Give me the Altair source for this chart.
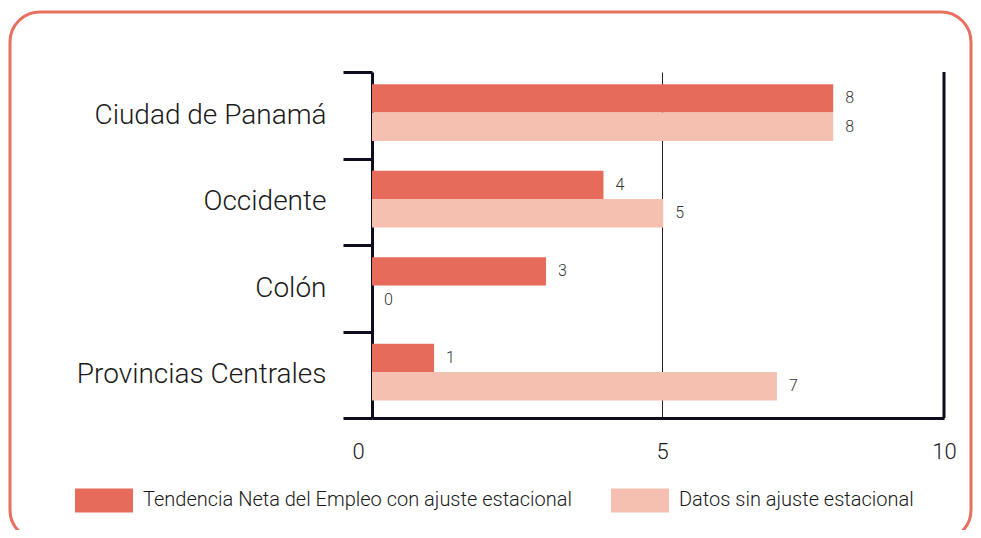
import altair as alt
import pandas as pd

categories = ["Ciudad de Panamá", "Occidente", "Colón", "Provincias Centrales"]
series = ["Tendencia Neta del Empleo con ajuste estacional", "Datos sin ajuste estacional"]
tendencia = [7.95, 3.99, 3.0, 1.07]
datos = [7.95, 5.02, 0.0, 6.98]
colors = ["#E76B5B", "#F6C0B1"]
x_max = 9.86          # right frame of the plot, labelled "10" in the source
x_ticks = [0, 5, x_max]

rows = []
for i, c in enumerate(categories):
    rows.append({"region": c, "serie": series[0], "valor": tendencia[i]})
    rows.append({"region": c, "serie": series[1], "valor": datos[i]})
df = pd.DataFrame(rows)

W, H = 572, 346
PAD = {"left": 364, "top": 64, "right": 29, "bottom": 112}
font = "Roboto"
dark = "#0d0d1f"
txt = "#1a1a1a"

y_enc = alt.Y(
    "region:N", sort=categories,
    scale=alt.Scale(paddingInner=0, paddingOuter=0),
    axis=alt.Axis(title=None, tickBand="extent", tickExtra=False, tickSize=29,
                  tickWidth=3, tickColor=dark, domainWidth=3, domainColor=dark,
                  labelFontSize=28, labelFont=font, labelFontWeight=300,
                  labelColor=txt, labelPadding=17, labelLimit=400, grid=False),
)
yoff = alt.YOffset("serie:N", sort=series,
                   scale=alt.Scale(paddingOuter=0.52, paddingInner=0, align=0.41))
x_enc = alt.X(
    "valor:Q", scale=alt.Scale(domain=[0, x_max], nice=False),
    axis=alt.Axis(values=x_ticks, title=None, grid=True, gridColor="#222",
                  labelExpr="datum.value > 9 ? '10' : format(datum.value, 'd')",
                  gridWidth=1, ticks=False, domainWidth=3, domainColor=dark,
                  labelFontSize=22, labelFont=font, labelFontWeight=300,
                  labelColor=txt, labelPadding=23, labelFlush=False,
                  labelOffset={"condition": {"test": "datum.value == 0", "value": -14}, "value": 0}),
)

bars = alt.Chart(df).mark_bar().encode(
    y=y_enc, yOffset=yoff, x=x_enc,
    color=alt.Color("serie:N", sort=series,
                    scale=alt.Scale(domain=series, range=colors),
                    legend=alt.Legend(orient="none", legendX=-297, legendY=399,
                                      direction="horizontal", title=None,
                                      symbolType="M-1,-0.414H1V0.414H-1Z",
                                      symbolSize=3364, symbolStrokeWidth=0,
                                      symbolOpacity=1, labelFontSize=20,
                                      labelFont=font, labelFontWeight=300,
                                      labelColor=txt, labelOffset=10,
                                      columnPadding=38, labelLimit=700)),
)

labels = alt.Chart(df).mark_text(align="left", baseline="middle", dx=12,
                                 fontSize=16, font=font, fontWeight=300,
                                 color="#333").encode(
    y=alt.Y("region:N", sort=categories), yOffset=yoff, x="valor:Q",
    text=alt.Text("valor:Q", format=".0f"),
)

rule_df = pd.DataFrame({"x": [x_max]})
right_rule = alt.Chart(rule_df).mark_rule(color=dark, strokeWidth=3).encode(x="x:Q")

border = alt.Chart(rule_df).mark_rect(fillOpacity=0, stroke="#E8705F",
                                      strokeWidth=3, cornerRadius=30).encode(
    x=alt.value(-362), x2=alt.value(599), y=alt.value(-60), y2=alt.value(468)
)

chart = alt.layer(bars, labels, right_rule, border).properties(
    width=W, height=H, padding=PAD,
    autosize=alt.AutoSizeParams(type="none"),
    background="white",
).configure_view(stroke=None)

chart.save("out.html", embed_options={"renderer": "svg", "actions": False})
